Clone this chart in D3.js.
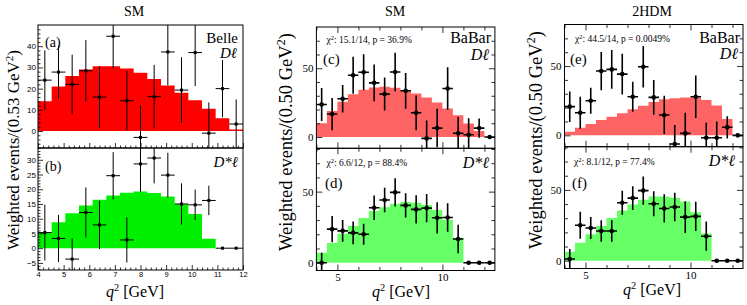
<!DOCTYPE html>
<html><head><meta charset="utf-8">
<script src="https://cdn.jsdelivr.net/npm/d3@7"></script>
<style>
body{margin:0;background:#fff}
svg{display:block}
text{font-family:"Liberation Serif","DejaVu Serif",serif;fill:#000}
</style>
</head><body>
<svg id="chart" width="747" height="305"></svg>
<script>
// ---------------- data ----------------
const belleQ2 = [4.267,4.8,5.333,5.867,6.4,6.933,7.467,8.0,8.533,9.067,9.6,10.133,10.667,11.2,11.733];
const belleBinW = 0.5333;
const babarQ2 = [4.25,4.75,5.25,5.75,6.25,6.75,7.25,7.75,8.25,8.75,9.25,9.75,10.25,10.75,11.25,11.75,12.25];
const babarBinW = 0.5;

// (a) Belle D l
const aHist = [14,21,26,29,30.5,30.5,29.5,27.5,24.5,21.5,18,14.5,10.5,6,0.7];
const aData = [24,27.8,22,28.4,16,44.7,14.3,-3,16.2,37.3,19.3,37,-1,20,3.3];
const aErr  = [14,12.5,14,14.5,14.5,15.2,14,15,15,15.7,15.5,15.8,14.5,13.5,11.6];
// (b) Belle D* l
const bHist = [5.3,8.8,11.9,14.5,16.4,17.9,18.8,19.2,18.7,17.5,14.9,11.6,3.2,0,0];
const bData = [5.3,3.3,-3.7,12.1,7.9,24.6,2.8,28.6,30.6,24.8,15,14.7,16.2,0,0];
const bErr  = [9.5,8,7,8.5,8.2,8,7.7,9.5,8.6,7.6,7,5.2,5,0,0];
// (c) BaBar D l, SM
const cHist = [10,18.9,25.7,31.1,34.4,36,36.6,35.8,34,31.6,28.7,25.1,20.8,15.9,9.9,4.3,0];
const cData = [23.7,16.7,27.8,44.9,47.1,39.4,31.2,47.3,33.6,17.6,-1,6.5,35.3,2.7,1.7,6.5,0];
const cErr  = [12,11.7,10,13.5,13,13.4,12,14,13,12.6,13,14,15.5,12,12,7,0];
// (d) BaBar D* l, SM
const dHist = [7,13.8,20.3,25.9,31.5,36.3,39,41.4,42.7,42.2,40.6,37,30,17.5,0,0,0];
const dData = [0,23.6,22.4,21,20,38.7,44.1,49.5,40.3,37.5,38.4,31.6,31.8,16.7,0,0,0];
const dErr  = [7,9.3,7.7,8,7.4,8.6,8.6,10,8.5,10,10,11,10,10,0,0,0];
// (e) BaBar D l, 2HDM
const eHist = [2.6,5.5,8.2,11.1,13.5,15.9,18.8,21.4,24,26,26.7,27.4,27.4,25.5,21.6,11.8,0];
const eData = [20.7,16.3,25,46.4,47.6,44.2,27.9,49.5,27.4,14.7,-6.3,1.4,27.9,-1.7,-1.7,5.8,0];
const eErr  = [11,11.5,9.4,13.8,14,14.7,10.8,15,12.5,13.8,13.8,14.9,15.3,10.8,11.6,8,0];
// (f) BaBar D* l, 2HDM
const fHist = [6.3,12.6,18.7,24.5,30.1,35.5,39.7,43,45.3,45.3,44.4,41.8,34.3,19.2,0,0,0];
const fData = [1.2,25,23.1,21,21,40.9,44.2,49.5,40.2,36.9,37.9,30.8,31.3,17.3,0,0,0];
const fErr  = [7,9.5,7.8,7.6,7.6,8.5,8.4,10,8.8,10,10,11.2,10.3,10.3,0,0,0];

// tick labels
const belleXTicks = [4,5,6,7,8,9,10,11,12];
const aYTicks = [0,10,20,30,40];
const bYTicks = [-5,0,5,10,15,20,25,30];
const babarXTicks = [5,10];
const babarYTicks = [0,50];

// ---------------- drawing ----------------
const svg = d3.select("#chart");
let clipId = 0;

function panel(o){
  const x = d3.scaleLinear().domain(o.xd).range([o.x0,o.x1]);
  const y = d3.scaleLinear().domain(o.yd).range([o.y1,o.y0]);
  const g = svg.append("g");
  const id = "clip"+(clipId++);
  svg.append("clipPath").attr("id",id).append("rect")
    .attr("x",o.x0).attr("y",o.y0).attr("width",o.x1-o.x0).attr("height",o.y1-o.y0);
  const pg = g.append("g").attr("clip-path",`url(#${id})`);
  // histogram as step area
  const pts = [];
  o.q.forEach((c,i)=>{ pts.push([c-o.w/2,o.hist[i]]); pts.push([c+o.w/2,o.hist[i]]); });
  pg.append("path")
    .attr("d", d3.area().x(d=>x(d[0])).y0(y(0)).y1(d=>y(d[1]))(pts))
    .attr("fill",o.color).attr("stroke","none");
  // data points
  const sw = o.belle ? 1 : 1.6;
  o.q.forEach((c,i)=>{
    const v=o.data[i], e=o.err[i];
    pg.append("line").attr("x1",x(c-o.w/2)).attr("x2",x(c+o.w/2))
      .attr("y1",y(v)).attr("y2",y(v)).attr("stroke","#000").attr("stroke-width",sw);
    if(e>0) pg.append("line").attr("x1",x(c)).attr("x2",x(c))
      .attr("y1",y(v-e)).attr("y2",y(v+e)).attr("stroke","#000").attr("stroke-width",sw);
    if(o.belle) pg.append("rect").attr("x",x(c)-1.5).attr("y",y(v)-1.5).attr("width",3).attr("height",3).attr("fill","#000");
    else pg.append("circle").attr("cx",x(c)).attr("cy",y(v)).attr("r",2.3).attr("fill","#000");
  });
  // axes
  const tickStyle = sel=>{ sel.select(".domain").remove(); sel.selectAll("line").attr("stroke","#000").attr("stroke-width",0.8); };
  const lblFont = o.belle ? {f:'"Liberation Sans","DejaVu Sans",sans-serif', s:"8px"} : {f:'"Liberation Serif",serif', s:"11px"};
  // left major
  g.append("g").attr("transform",`translate(${o.x0},0)`)
    .call(d3.axisLeft(y).tickValues(o.yMajor).tickSize(-o.majL).tickPadding(o.belle?2:3).tickFormat(d3.format("d")))
    .call(tickStyle)
    .selectAll("text").style("font-family",lblFont.f).style("font-size",lblFont.s);
  g.append("g").attr("transform",`translate(${o.x0},0)`)
    .call(d3.axisLeft(y).tickValues(o.yMinor).tickSize(-o.minL).tickFormat(""))
    .call(tickStyle);
  // bottom
  const bot = g.append("g").attr("transform",`translate(0,${o.y1})`)
    .call(d3.axisBottom(x).tickValues(o.xMajor).tickSize(-o.majL).tickPadding(o.belle?2:3).tickFormat(o.xLabels? d3.format("d") : ""))
    .call(tickStyle);
  bot.selectAll("text").style("font-family",lblFont.f).style("font-size",o.belle?"7.5px":"11px");
  g.append("g").attr("transform",`translate(0,${o.y1})`)
    .call(d3.axisBottom(x).tickValues(o.xMinor).tickSize(-o.minL).tickFormat(""))
    .call(tickStyle);
  if(!o.belle){
    g.append("g").attr("transform",`translate(${o.x1},0)`)
      .call(d3.axisRight(y).tickValues(o.yMajor).tickSize(-o.majL).tickFormat("")).call(tickStyle);
    g.append("g").attr("transform",`translate(${o.x1},0)`)
      .call(d3.axisRight(y).tickValues(o.yMinor).tickSize(-o.minL).tickFormat("")).call(tickStyle);
    g.append("g").attr("transform",`translate(0,${o.y0})`)
      .call(d3.axisTop(x).tickValues(o.xMajor).tickSize(-o.majL).tickFormat("")).call(tickStyle);
    g.append("g").attr("transform",`translate(0,${o.y0})`)
      .call(d3.axisTop(x).tickValues(o.xMinor).tickSize(-o.minL).tickFormat("")).call(tickStyle);
  }
  // frame
  g.append("rect").attr("x",o.x0).attr("y",o.y0).attr("width",o.x1-o.x0).attr("height",o.y1-o.y0)
    .attr("fill","none").attr("stroke","#000").attr("stroke-width",1);
  return g;
}

function range(a,b,s){ const r=[]; for(let v=a; v<=b+1e-9; v+=s) r.push(+v.toFixed(3)); return r; }

const belleXMinor = range(4,12,0.2).filter(v=>Math.abs(v-Math.round(v))>1e-6);
const babarXMinor = [4,6,7,8,9,11,12];

// Panel (a)
const ga = panel({x0:38,x1:243,y0:25,y1:148,xd:[4,12],yd:[-8,50],q:belleQ2,w:belleBinW,
  hist:aHist,data:aData,err:aErr,color:"#ff0000",belle:true,
  yMajor:aYTicks,yMinor:range(-8,50,2).filter(v=>v%10!==0),majL:5,minL:2.5,
  xMajor:belleXTicks,xMinor:belleXMinor,xLabels:false});
// Panel (b)
const gb = panel({x0:38,x1:243,y0:148,y1:270,xd:[4,12],yd:[-7.4,34],q:belleQ2,w:belleBinW,
  hist:bHist,data:bData,err:bErr,color:"#00f000",belle:true,
  yMajor:bYTicks,yMinor:range(-7,34,1).filter(v=>v%5!==0),majL:5,minL:2.5,
  xMajor:belleXTicks,xMinor:belleXMinor,xLabels:true});
// Panel (c)
const gc = panel({x0:316.4,x1:494.9,y0:27,y1:148.3,xd:[4,12.5],yd:[-8.2,80],q:babarQ2,w:babarBinW,
  hist:cHist,data:cData,err:cErr,color:"#ff6464",belle:false,
  yMajor:babarYTicks,yMinor:[10,20,30,40,60,70],majL:6,minL:3.5,
  xMajor:babarXTicks,xMinor:babarXMinor,xLabels:false});
// Panel (d)
const gd = panel({x0:316.4,x1:494.9,y0:148.3,y1:270.5,xd:[4,12.5],yd:[-5.5,80.5],q:babarQ2,w:babarBinW,
  hist:dHist,data:dData,err:dErr,color:"#66ff66",belle:false,
  yMajor:babarYTicks,yMinor:[10,20,30,40,60,70,80],majL:6,minL:3.5,
  xMajor:babarXTicks,xMinor:babarXMinor,xLabels:true});
// Panel (e)
const ge = panel({x0:564.5,x1:743,y0:24.5,y1:146.7,xd:[4,12.5],yd:[-8.2,80],q:babarQ2,w:babarBinW,
  hist:eHist,data:eData,err:eErr,color:"#ff6464",belle:false,
  yMajor:babarYTicks,yMinor:[10,20,30,40,60,70],majL:6,minL:3.5,
  xMajor:babarXTicks,xMinor:babarXMinor,xLabels:false});
// Panel (f)
const gf = panel({x0:564.5,x1:743,y0:146.7,y1:268.5,xd:[4,12.5],yd:[-5.5,80.5],q:babarQ2,w:babarBinW,
  hist:fHist,data:fData,err:fErr,color:"#66ff66",belle:false,
  yMajor:babarYTicks,yMinor:[10,20,30,40,60,70,80],majL:6,minL:3.5,
  xMajor:babarXTicks,xMinor:babarXMinor,xLabels:true});

// ---------------- text ----------------
function txt(x,y,s,size,anchor,italic){
  return svg.append("text").attr("x",x).attr("y",y).attr("text-anchor",anchor||"start")
    .style("font-size",size+"px").style("font-style",italic?"italic":"normal").text(s);
}
function chi(x,y,pre,post){
  const t = svg.append("text").attr("x",x).attr("y",y).style("font-size","9.5px");
  t.append("tspan").text("χ");
  t.append("tspan").attr("dy",-3.5).style("font-size","6.5px").text("2");
  t.append("tspan").attr("dy",3.5).text(": "+pre+", p = "+post);
}
function dstar(x,y,size,star){
  const t = svg.append("text").attr("x",x).attr("y",y).attr("text-anchor","end").style("font-size",size+"px").style("font-style","italic");
  t.append("tspan").text("D");
  if(star) t.append("tspan").text("*");
  t.append("tspan").text("ℓ");
}
function ylab(x,y,s,size){
  const t = svg.append("text").attr("transform",`translate(${x},${y}) rotate(-90)`).attr("text-anchor","middle").style("font-size",size+"px");
  t.append("tspan").text(s);
  t.append("tspan").attr("dy",-size*0.38).style("font-size",(size*0.65)+"px").text("2");
  t.append("tspan").attr("dy",size*0.38).text(")");
}
function xlab(x,y,size){
  const t = svg.append("text").attr("x",x).attr("y",y).attr("text-anchor","middle").style("font-size",size+"px");
  t.append("tspan").style("font-style","italic").text("q");
  t.append("tspan").attr("dy",-size*0.38).style("font-size",(size*0.65)+"px").text("2");
  t.append("tspan").attr("dy",size*0.38).text(" [GeV]");
}

// titles
txt(134,16,"SM",14,"middle");
txt(395,16,"SM",14,"middle");
txt(652,16,"2HDM",14,"middle");

// (a)/(b)
txt(45,47,"(a)",14);
txt(238,43,"Belle",15,"end");
dstar(237,58,15,false);
txt(45,171,"(b)",14);
dstar(238,167,15,true);

// (c)/(d)
chi(326.5,43,"15.1/14","36.9%");
txt(323,64,"(c)",15);
txt(491,43,"BaBar",16,"end");
dstar(489,60,16,false);
chi(326.5,166,"6.6/12","88.4%");
txt(325,188,"(d)",15);
dstar(489,168,16,true);

// (e)/(f)
chi(575,42,"44.5/14","0.0049%");
txt(570,64,"(e)",15);
txt(740,43,"BaBar",16,"end");
dstar(738,59,16,false);
chi(574,165,"8.1/12","77.4%");
txt(572,188,"(f)",15);
dstar(735,166,16,true);

// axis titles
ylab(19,150,"Weighted events/(0.53 GeV",17);
ylab(292,142,"Weighted events/(0.50 GeV",18.5);
ylab(542,140,"Weighted events/(0.50 GeV",18.5);
xlab(135,297,16);
xlab(401,297,16);
xlab(652,295,16);
</script>
</body></html>
